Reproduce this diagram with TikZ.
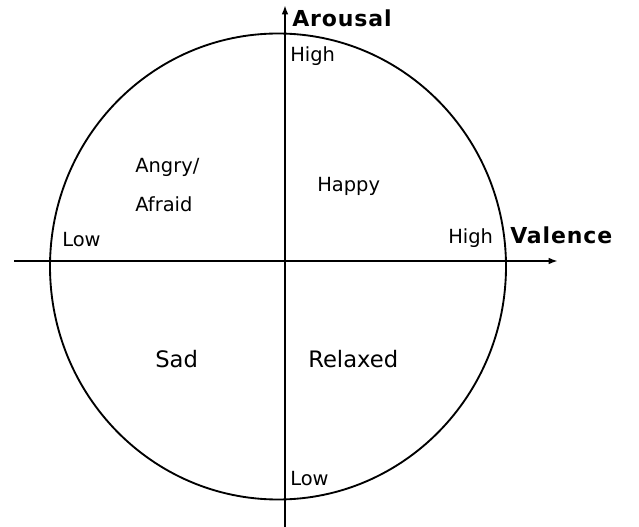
\documentclass[tikz,border=0pt]{standalone}
\usepackage{fontspec}
\setmainfont{DejaVu Sans}
\usetikzlibrary{arrows.meta}
\tikzset{
  lbl/.style={inner sep=0pt, anchor=base west, font=\fontsize{14.6pt}{16pt}\selectfont},
  big/.style={inner sep=0pt, anchor=base west, font=\fontsize{17pt}{19pt}\selectfont},
  axlbl/.style={inner sep=0pt, anchor=base west, font=\fontsize{16.5pt}{18pt}\selectfont\bfseries\addfontfeature{LetterSpace=4}},
  axis/.style={line width=1.5pt, -{Latex[length=7pt,width=5pt]}},
  ring/.style={line width=1.4pt}
}
\begin{document}
\begin{tikzpicture}[x=0.75pt,y=-0.75pt]
\useasboundingbox (0,0) rectangle (639,527);
\coordinate (c) at (278,266.5);
\draw[ring] (c) ellipse [x radius=228, y radius=233];
\coordinate (xl) at (14,261);
\coordinate (xr) at (558,261);
\coordinate (yb) at (285,527);
\coordinate (yt) at (285,5);
\draw[axis] (xl) -- (xr);
\draw[axis] (yb) -- (yt);
\node[axlbl] (arousal) at (292,27) {Arousal};
\node[axlbl] (valence) at (510,244) {Valence};
\node[lbl] (hightop) at (290,62) {High};
\node[lbl] (highright) at (448,244) {High};
\node[lbl] (lowleft) at (62,247) {Low};
\node[lbl] (lowbottom) at (290,485) {Low};
\node[lbl] (happy) at (317,192) {Happy};
\node[lbl] (angry) at (135,173) {Angry/};
\node[lbl] (afraid) at (135,212) {Afraid};
\node[big] (relaxed) at (308,367) {Relaxed};
\node[big] (sad) at (155,368) {Sad};
\end{tikzpicture}
\end{document}
